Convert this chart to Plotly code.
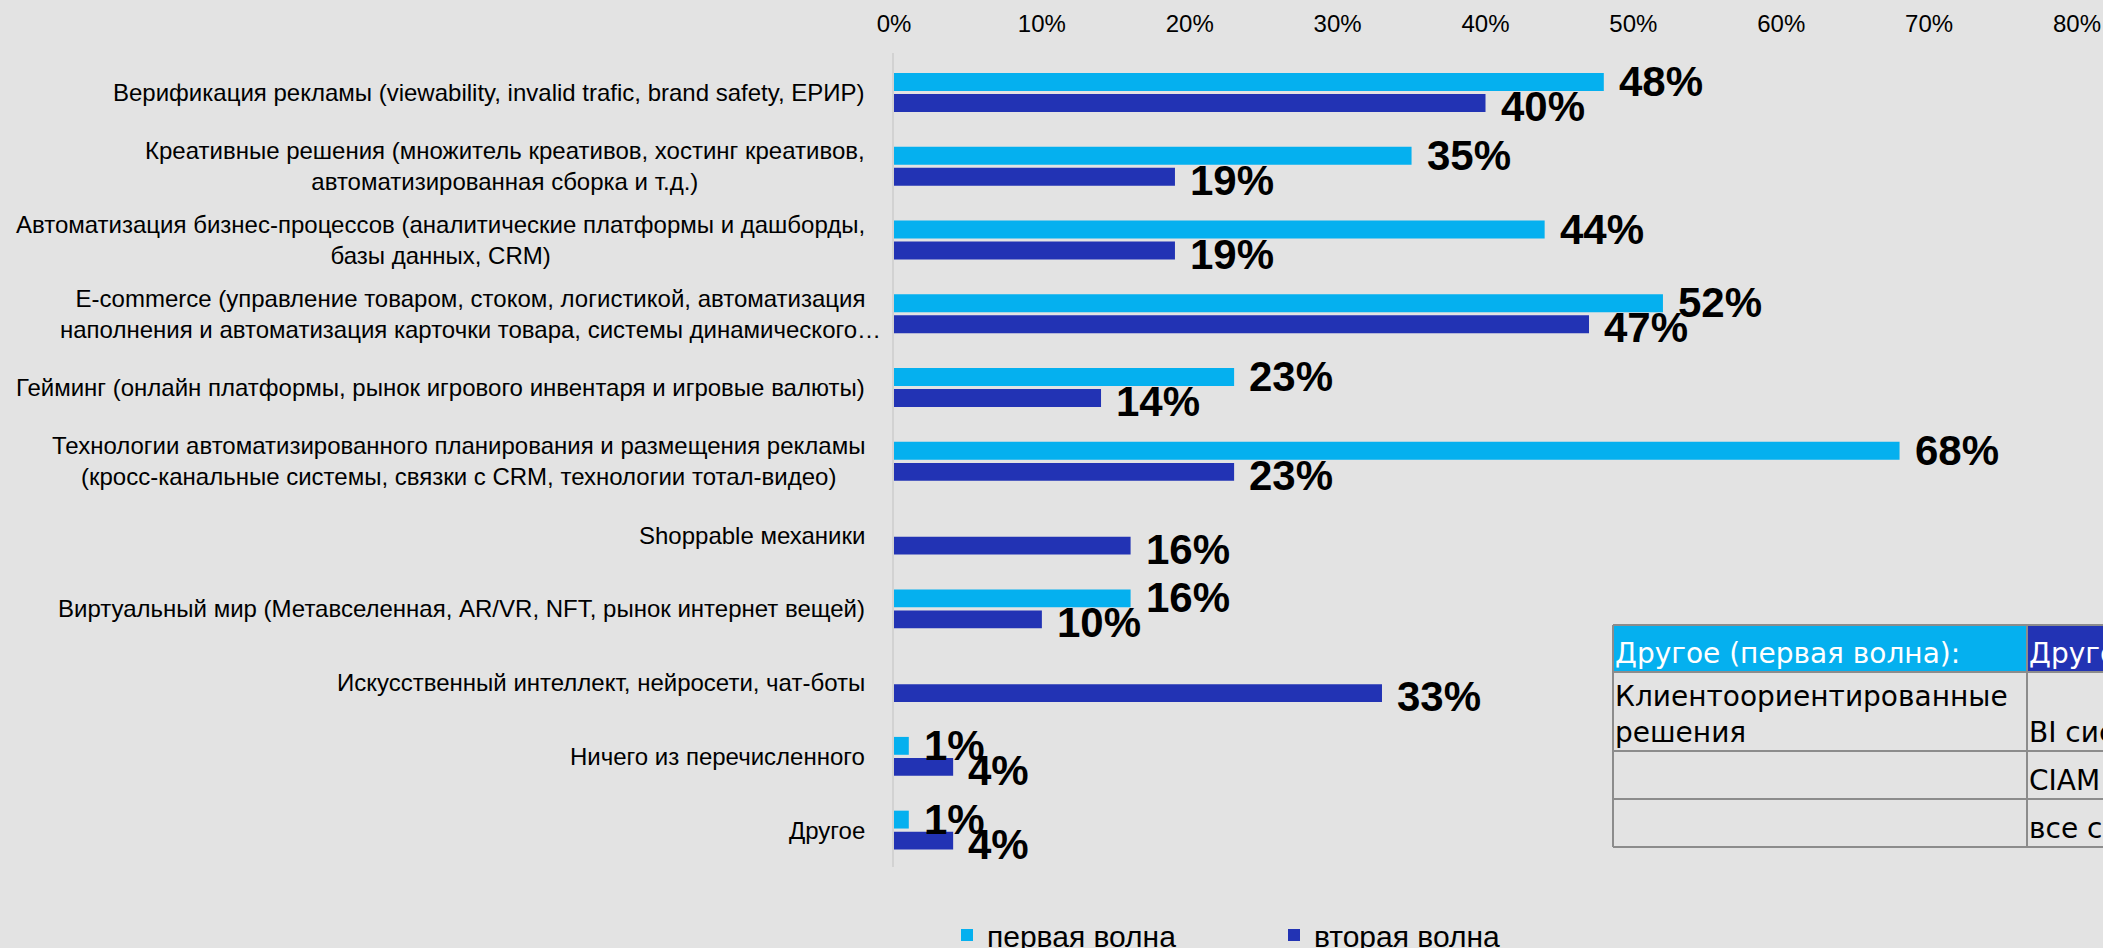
import plotly.graph_objects as go

# ---- data -------------------------------------------------------------
categories = [
    "Верификация рекламы (viewability, invalid trafic, brand safety, ЕРИР)",
    "Креативные решения (множитель креативов, хостинг креативов,<br>автоматизированная сборка и т.д.)",
    "Автоматизация бизнес-процессов (аналитические платформы и дашборды,<br>базы данных, CRM)",
    "E-commerce (управление товаром, стоком, логистикой, автоматизация<br>наполнения и автоматизация карточки товара, системы динамического…",
    "Гейминг (онлайн платформы, рынок игрового инвентаря и игровые валюты)",
    "Технологии автоматизированного планирования и размещения рекламы<br>(кросс-канальные системы, связки с CRM, технологии тотал-видео)",
    "Shoppable механики",
    "Виртуальный мир (Метавселенная, AR/VR, NFT, рынок интернет вещей)",
    "Искусственный интеллект, нейросети, чат-боты",
    "Ничего из перечисленного",
    "Другое",
]
first_wave = [48, 35, 44, 52, 23, 68, None, 16, None, 1, 1]
second_wave = [40, 19, 19, 47, 14, 23, 16, 10, 33, 4, 4]
series_names = ["первая волна", "вторая волна"]
x_ticks = [0, 10, 20, 30, 40, 50, 60, 70, 80]
x_tick_labels = [f"{t}%" for t in x_ticks]

table_header = ["Другое (первая волна):", "Другое (вторая волна):"]
table_rows = [
    ["Клиентоориентированные<br>решения", "BI системы"],
    ["", "CIAM"],
    ["", "все сразу"],
]

# ---- style ------------------------------------------------------------
BG = "#E3E3E3"
LIGHT = "#05B0EF"
DARK = "#2233B4"
FONT = "Liberation Sans, Arial, sans-serif"
TABLE_FONT = "DejaVu Sans, Verdana, sans-serif"

W, H = 2103, 948
ML, MR, MT, MB = 894, 26, 53, 81
PW, PH = W - ML - MR, H - MT - MB


def px_x(p):
    return (p - ML) / PW


def px_y(p):
    return (H - MB - p) / PH


fig = go.Figure()
fig.add_trace(go.Bar(
    x=first_wave, y=categories, orientation="h", name=series_names[0],
    marker=dict(color=LIGHT, line=dict(width=0)),
))
fig.add_trace(go.Bar(
    x=second_wave, y=categories, orientation="h", name=series_names[1],
    marker=dict(color=DARK, line=dict(width=0)),
))

annotations = []

# category labels, centred lines, right edge near the axis
label_nudge = {3: 16}
for i, cat in enumerate(categories):
    annotations.append(dict(
        x=0, xref="paper", y=cat, yref="y",
        text=cat, showarrow=False, xanchor="right", yanchor="middle",
        align="center", xshift=-27 + label_nudge.get(i, 0),
        font=dict(family=FONT, size=24, color="#000000"),
    ))

# value labels next to bar ends
for values, ysh in ((first_wave, 11), (second_wave, -14)):
    for cat, v in zip(categories, values):
        if v is None:
            continue
        annotations.append(dict(
            x=v, xref="x", y=cat, yref="y", text=f"{v}%",
            showarrow=False, xanchor="left", yanchor="middle",
            xshift=13, yshift=ysh,
            font=dict(family=FONT, size=42, color="#000000", weight="bold"),
        ))

# "other" answers table
shapes = []
col_x = [1613, 2027, 2600]
row_y = [625, 672, 751, 799, 847]
for c, fill in enumerate((LIGHT, DARK)):
    shapes.append(dict(
        type="rect", xref="paper", yref="paper",
        x0=px_x(col_x[c]), x1=px_x(col_x[c + 1]),
        y0=px_y(row_y[0]), y1=px_y(row_y[1]),
        fillcolor=fill, line=dict(width=0), layer="above",
    ))
for ry in row_y:
    shapes.append(dict(
        type="line", xref="paper", yref="paper",
        x0=px_x(col_x[0]), x1=px_x(col_x[-1]), y0=px_y(ry), y1=px_y(ry),
        line=dict(color="#8C8C8C", width=2),
    ))
for cx in col_x[:2]:
    shapes.append(dict(
        type="line", xref="paper", yref="paper",
        x0=px_x(cx), x1=px_x(cx), y0=px_y(row_y[0]), y1=px_y(row_y[-1]),
        line=dict(color="#8C8C8C", width=2),
    ))

cells = [table_header] + table_rows
for r, row in enumerate(cells):
    for c, txt in enumerate(row):
        if not txt:
            continue
        annotations.append(dict(
            x=px_x(col_x[c]), xref="paper", y=px_y(row_y[r + 1]), yref="paper",
            text=txt, showarrow=False, xanchor="left", yanchor="bottom",
            align="left",
            font=dict(family=TABLE_FONT, size=28,
                      color="#FFFFFF" if r == 0 else "#000000"),
        ))

fig.update_layout(
    width=W, height=H,
    margin=dict(l=ML, r=MR, t=MT, b=MB, autoexpand=False),
    paper_bgcolor=BG, plot_bgcolor=BG,
    barmode="group", bargap=0.43, bargroupgap=0.15,
    showlegend=True,
    legend=dict(
        orientation="h", x=px_x(947), xanchor="left",
        y=px_y(935), yanchor="middle",
        font=dict(family=FONT, size=30, color="#000000"),
        entrywidth=282, entrywidthmode="pixels",
        bgcolor="rgba(0,0,0,0)", traceorder="normal",
    ),
    xaxis=dict(
        side="top", range=[0, 80], tickvals=x_ticks, ticktext=x_tick_labels,
        showgrid=False, zeroline=False, showline=False,
        ticks="", ticklabelstandoff=15,
        tickfont=dict(family=FONT, size=24, color="#000000"),
    ),
    yaxis=dict(
        autorange="reversed", showticklabels=False, ticks="",
        showgrid=False, zeroline=False,
        showline=True, linecolor="#D2D2D2", linewidth=2,
    ),
    annotations=annotations,
    shapes=shapes,
)

fig.write_html("out.html")
